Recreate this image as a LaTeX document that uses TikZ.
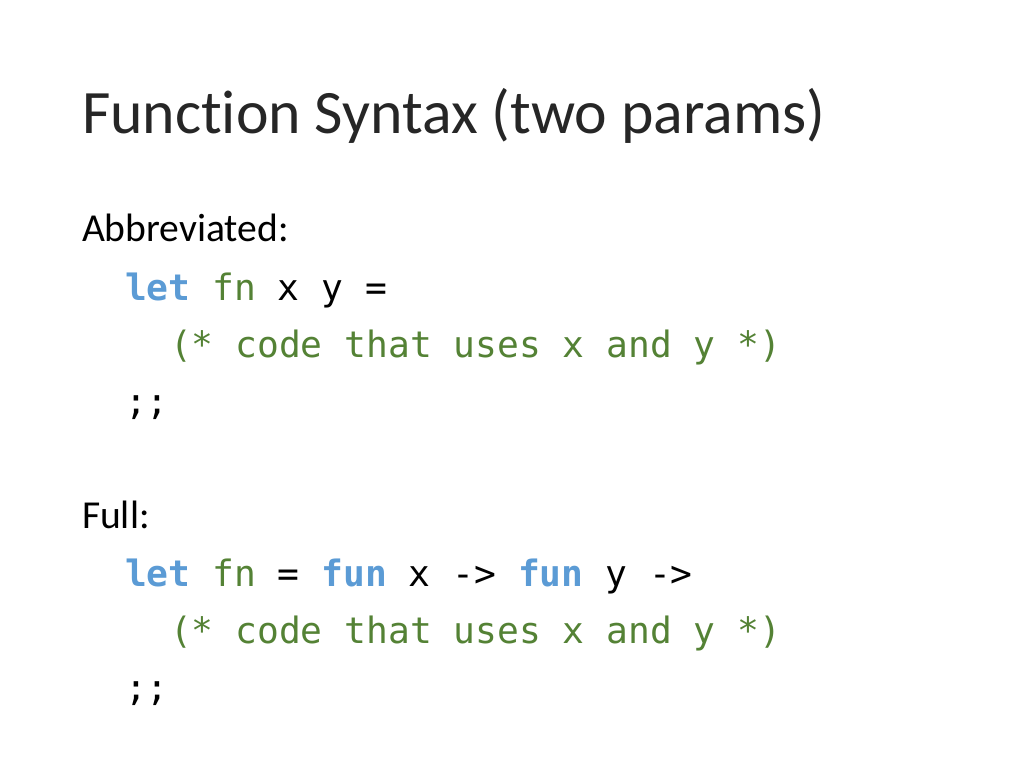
\documentclass[tikz,border=0pt]{standalone}
\usepackage{fontspec}
\setmainfont{Carlito}[Ligatures={NoCommon}]
\newfontfamily\codef{DejaVu Sans Mono}
\definecolor{kw}{RGB}{91,155,213}
\definecolor{gr}{RGB}{84,130,53}
\newcommand{\kwd}[1]{\textcolor{kw}{\bfseries #1}}
\newcommand{\grn}[1]{\textcolor{gr}{#1}}
\begin{document}
\begin{tikzpicture}[x=0.75pt,y=-0.75pt,
  every node/.style={anchor=base west,inner sep=0pt,outer sep=0pt},
  title/.style={font=\fontsize{46.3}{55}\selectfont, text=black!85},
  lab/.style={font=\fontsize{29.7}{36}\selectfont},
  code/.style={font=\codef\fontsize{27.2}{30}\selectfont}]
\useasboundingbox (0,0) rectangle (1024,768);
\fill[white] (0,0) rectangle (1024,768);
\node[title] (t) at (82,133) {Function Syntax (two params)};
\node[lab] (a) at (82,241) {Abbreviated:};
\node[code] (a1) at (125,300) {\kwd{let} \grn{fn} x y =};
\node[code] (a2) at (170,357) {\grn{(* code that uses x and y *)}};
\node[code] (a3) at (125,414) {;;};
\node[lab] (f) at (82,528) {Full:};
\node[code] (f1) at (125,586) {\kwd{let} \grn{fn} = \kwd{fun} x -> \kwd{fun} y ->};
\node[code] (f2) at (170,643) {\grn{(* code that uses x and y *)}};
\node[code] (f3) at (125,700) {;;};
\end{tikzpicture}
\end{document}
